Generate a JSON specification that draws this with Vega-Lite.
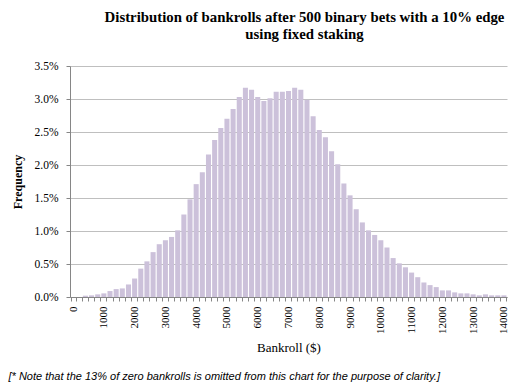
{
  "$schema": "https://vega.github.io/schema/vega-lite/v6.json",
  "width": 437,
  "height": 231,
  "autosize": {"type": "none"},
  "padding": {"left": 70, "top": 66, "right": 25, "bottom": 95},
  "background": "white",
  "config": {"view": {"stroke": null}},
  "title": {
    "text": ["Distribution of bankrolls after 500 binary bets with a 10% edge", "using fixed staking"],
    "font": "Liberation Serif",
    "fontSize": 14.8,
    "fontWeight": "bold",
    "color": "black",
    "anchor": "middle",
    "dx": 16,
    "offset": 18,
    "lineHeight": 17
  },
  "data": {
    "values": [
      {"bankroll": 0, "freq": 0},
      {"bankroll": 200, "freq": 0},
      {"bankroll": 400, "freq": 0.0002},
      {"bankroll": 600, "freq": 0.00025},
      {"bankroll": 800, "freq": 0.0004},
      {"bankroll": 1000, "freq": 0.00055},
      {"bankroll": 1200, "freq": 0.0009},
      {"bankroll": 1400, "freq": 0.0012},
      {"bankroll": 1600, "freq": 0.0013},
      {"bankroll": 1800, "freq": 0.0019},
      {"bankroll": 2000, "freq": 0.0028},
      {"bankroll": 2200, "freq": 0.0043},
      {"bankroll": 2400, "freq": 0.0054},
      {"bankroll": 2600, "freq": 0.0068},
      {"bankroll": 2800, "freq": 0.008},
      {"bankroll": 3000, "freq": 0.0086},
      {"bankroll": 3200, "freq": 0.0091},
      {"bankroll": 3400, "freq": 0.0101},
      {"bankroll": 3600, "freq": 0.0125},
      {"bankroll": 3800, "freq": 0.0148},
      {"bankroll": 4000, "freq": 0.0171},
      {"bankroll": 4200, "freq": 0.0189},
      {"bankroll": 4400, "freq": 0.0216},
      {"bankroll": 4600, "freq": 0.0238},
      {"bankroll": 4800, "freq": 0.0256},
      {"bankroll": 5000, "freq": 0.027},
      {"bankroll": 5200, "freq": 0.0285},
      {"bankroll": 5400, "freq": 0.0303},
      {"bankroll": 5600, "freq": 0.0317},
      {"bankroll": 5800, "freq": 0.0314},
      {"bankroll": 6000, "freq": 0.0303},
      {"bankroll": 6200, "freq": 0.0297},
      {"bankroll": 6400, "freq": 0.0301},
      {"bankroll": 6600, "freq": 0.0311},
      {"bankroll": 6800, "freq": 0.0311},
      {"bankroll": 7000, "freq": 0.0312},
      {"bankroll": 7200, "freq": 0.0317},
      {"bankroll": 7400, "freq": 0.0314},
      {"bankroll": 7600, "freq": 0.0299},
      {"bankroll": 7800, "freq": 0.0274},
      {"bankroll": 8000, "freq": 0.0253},
      {"bankroll": 8200, "freq": 0.0242},
      {"bankroll": 8400, "freq": 0.0221},
      {"bankroll": 8600, "freq": 0.0201},
      {"bankroll": 8800, "freq": 0.0172},
      {"bankroll": 9000, "freq": 0.0154},
      {"bankroll": 9200, "freq": 0.0133},
      {"bankroll": 9400, "freq": 0.0113},
      {"bankroll": 9600, "freq": 0.0101},
      {"bankroll": 9800, "freq": 0.0094},
      {"bankroll": 10000, "freq": 0.0086},
      {"bankroll": 10200, "freq": 0.0075},
      {"bankroll": 10400, "freq": 0.0059},
      {"bankroll": 10600, "freq": 0.0051},
      {"bankroll": 10800, "freq": 0.0045},
      {"bankroll": 11000, "freq": 0.0037},
      {"bankroll": 11200, "freq": 0.003},
      {"bankroll": 11400, "freq": 0.0022},
      {"bankroll": 11600, "freq": 0.0018},
      {"bankroll": 11800, "freq": 0.0015},
      {"bankroll": 12000, "freq": 0.001},
      {"bankroll": 12200, "freq": 0.001},
      {"bankroll": 12400, "freq": 0.0007},
      {"bankroll": 12600, "freq": 0.00055},
      {"bankroll": 12800, "freq": 0.00055},
      {"bankroll": 13000, "freq": 0.0004},
      {"bankroll": 13200, "freq": 0.00025},
      {"bankroll": 13400, "freq": 0.0004},
      {"bankroll": 13600, "freq": 0.00025},
      {"bankroll": 13800, "freq": 0.00025},
      {"bankroll": 14000, "freq": 0.00025}
    ]
  },
  "layer": [
    {
      "mark": {"type": "bar", "color": "#ccc1da"},
      "encoding": {
        "x": {
          "field": "bankroll",
          "type": "ordinal",
          "sort": null,
          "scale": {"paddingInner": 0.18, "paddingOuter": 0.09},
          "axis": {
            "title": "Bankroll ($)",
            "titleFont": "Liberation Serif",
            "titleFontSize": 13,
            "titleFontWeight": "normal",
            "titleColor": "black",
            "titlePadding": 8,
            "labelAngle": -90,
            "labelFont": "Liberation Serif",
            "labelFontSize": 11,
            "labelColor": "black",
            "labelPadding": 5,
            "labelOverlap": false,
            "labelExpr": "datum.value % 1000 === 0 ? datum.label : ''",
            "tickBand": "extent",
            "tickSize": 4,
            "tickColor": "#868686",
            "domainColor": "#868686",
            "grid": false
          }
        },
        "y": {
          "field": "freq",
          "type": "quantitative",
          "scale": {"domain": [0, 0.035], "nice": false},
          "axis": {
            "title": "Frequency",
            "titleFont": "Liberation Serif",
            "titleFontSize": 12,
            "titleFontWeight": "bold",
            "titleColor": "black",
            "titlePadding": 10,
            "format": ".1%",
            "values": [0, 0.005, 0.01, 0.015, 0.02, 0.025, 0.03, 0.035],
            "labelFont": "Liberation Serif",
            "labelFontSize": 11.5,
            "labelColor": "black",
            "labelPadding": 8,
            "tickSize": 4,
            "tickColor": "#868686",
            "domainColor": "#868686",
            "grid": true,
            "gridColor": "#bfbfbf"
          }
        }
      }
    },
    {
      "mark": {"type": "rule", "opacity": 0},
      "encoding": {
        "x": {
          "field": "bankroll",
          "type": "ordinal",
          "sort": null,
          "axis": {
            "orient": "bottom",
            "labels": false,
            "ticks": false,
            "domain": false,
            "grid": false,
            "title": "[* Note that the 13% of zero bankrolls is omitted from this chart for the purpose of clarity.]",
            "titleFont": "Liberation Sans",
            "titleFontSize": 11,
            "titleFontStyle": "italic",
            "titleFontWeight": "normal",
            "titleColor": "black",
            "titleAlign": "left",
            "titleBaseline": "alphabetic",
            "titleX": -62,
            "titleY": 82
          }
        }
      }
    }
  ],
  "resolve": {"axis": {"x": "independent"}}
}
